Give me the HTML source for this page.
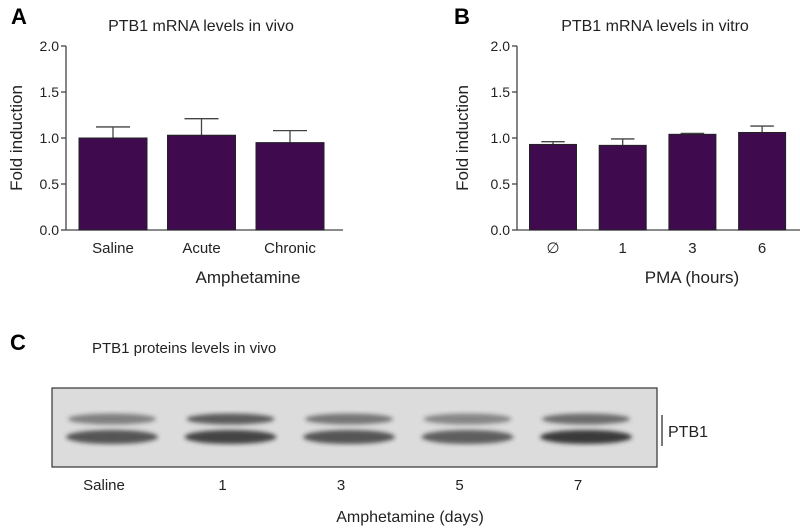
<!DOCTYPE html>
<html><head><meta charset="utf-8"><style>
body{margin:0;background:#fff;}
svg{display:block;font-family:"Liberation Sans",Arial,sans-serif;}
</style></head><body>
<svg width="800" height="530" viewBox="0 0 800 530">
<defs>
<filter id="blur2"><feGaussianBlur stdDeviation="2.2"/></filter>
<filter id="blur1"><feGaussianBlur stdDeviation="1.2"/></filter>
</defs>
<g id="panelA"></g>
<g id="panelB"></g>
<g id="panelC">
  <text x="10" y="350" font-size="22" font-weight="bold">C</text>
  <text x="92" y="353" font-size="15" fill="#222">PTB1 proteins levels in vivo</text>
  <rect x="52" y="388" width="605" height="79" fill="#dcdcdc" stroke="#333" stroke-width="1.2"/>
  <g id="lanes" filter="url(#blur2)"></g>
  <line x1="662" y1="415" x2="662" y2="446" stroke="#222" stroke-width="1.2"/>
  <text x="668" y="437" font-size="16" fill="#222">PTB1</text>
  <g id="laneLabels"></g>
  <text x="410" y="522" font-size="16" fill="#222" text-anchor="middle">Amphetamine (days)</text>
</g>
</svg>
<script>
const NS='http://www.w3.org/2000/svg';
const catsA=['Saline','Acute','Chronic'];
const valsA=[1.00,1.03,0.95];
const errsA=[0.12,0.18,0.13];
const catsB=['∅','1','3','6'];
const valsB=[0.93,0.92,1.04,1.06];
const errsB=[0.03,0.07,0.01,0.07];
const ticks=[0,0.5,1.0,1.5,2.0];
const tickLabels=['0.0','0.5','1.0','1.5','2.0'];
const laneLabels=['Saline','1','3','5','7'];
const upperBand=[0.55,0.75,0.6,0.5,0.65];
const lowerBand=[0.75,0.85,0.75,0.7,0.9];

function mk(tag,attrs,parent){const e=document.createElementNS(NS,tag);for(const k in attrs)e.setAttribute(k,attrs[k]);parent.appendChild(e);return e;}

function drawPanel(g,opt){
  const y=v=>opt.y0-(v/2)*(opt.y0-opt.y1);
  const x=i=>opt.c0+i*opt.step;
  const letter=mk('text',{x:opt.lx,y:24,'font-size':22,'font-weight':'bold'},g);letter.textContent=opt.letter;
  
  
  const t=mk('text',{x:opt.tx,y:31,'font-size':16,'text-anchor':'middle',fill:'#222'},g);t.textContent=opt.title;
  
  
  const yt=mk('text',{x:0,y:0,'font-size':17,'text-anchor':'middle',fill:'#222',transform:`translate(${opt.ytx},138) rotate(-90)`},g);yt.textContent='Fold induction';
  
  
  const ya=mk('line',{x1:opt.ax,y1:y(2),x2:opt.ax,y2:y(0),stroke:'#444','stroke-width':1.3},g);
  
  
  const xa=mk('line',{x1:opt.ax,y1:y(0),x2:opt.axEnd,y2:y(0),stroke:'#444','stroke-width':1.3},g);
  
  
  ticks.forEach((v,i)=>{
    const tk=mk('line',{x1:opt.ax-5,y1:y(v),x2:opt.ax,y2:y(v),stroke:'#444','stroke-width':1.3},g);
    
    
    const tl=mk('text',{x:opt.ax-7,y:y(v)+5,'font-size':14,'text-anchor':'end',fill:'#222'},g);tl.textContent=tickLabels[i];
    
    
  });
  opt.cats.forEach((c,i)=>{
    const cx=x(i),w=opt.bw;
    const eb=mk('line',{x1:cx,y1:y(opt.vals[i]),x2:cx,y2:y(opt.vals[i]+opt.errs[i]),stroke:'#444','stroke-width':1.3},g);
    
    
    const cap=mk('line',{x1:cx-w*0.25,y1:y(opt.vals[i]+opt.errs[i]),x2:cx+w*0.25,y2:y(opt.vals[i]+opt.errs[i]),stroke:'#444','stroke-width':1.3},g);
    
    
    const b=mk('rect',{x:cx-w/2,y:y(opt.vals[i]),width:w,height:y(0)-y(opt.vals[i]),fill:'#3f0a4e',stroke:'#222','stroke-width':1},g);
    
    
    const l=mk('text',{x:cx,y:253,'font-size':15,'text-anchor':'middle',fill:'#222'},g);l.textContent=c;
    
    
  });
  const xt=mk('text',{x:opt.xtx,y:283,'font-size':17,'text-anchor':'middle',fill:'#222'},g);xt.textContent=opt.xtitle;
  
  
}
drawPanel(document.getElementById('panelA'),{letter:'A',lx:11,title:'PTB1 mRNA levels in vivo',tx:201,ytx:22,ax:66,axEnd:343,y0:230,y1:46,c0:113,step:88.5,bw:68,cats:catsA,vals:valsA,errs:errsA,xtitle:'Amphetamine',xtx:248});
drawPanel(document.getElementById('panelB'),{letter:'B',lx:454,title:'PTB1 mRNA levels in vitro',tx:655,ytx:468,ax:517,axEnd:800,y0:230,y1:46,c0:553,step:69.7,bw:47,cats:catsB,vals:valsB,errs:errsB,xtitle:'PMA (hours)',xtx:692});

const lanes=document.getElementById('lanes');
const labs=document.getElementById('laneLabels');
laneLabels.forEach((l,i)=>{
  const cx=112+i*118.5;
  const u=mk('ellipse',{cx:cx,cy:419,rx:44,ry:5.5,fill:'#333','fill-opacity':upperBand[i]},lanes);
  
  
  const lo=mk('ellipse',{cx:cx,cy:437,rx:46,ry:7,fill:'#2a2a2a','fill-opacity':lowerBand[i]},lanes);
  
  
  const t=mk('text',{x:cx-8,y:490,'font-size':15,'text-anchor':'middle',fill:'#222'},labs);t.textContent=l;
  
  
});
</script>
</body></html>
